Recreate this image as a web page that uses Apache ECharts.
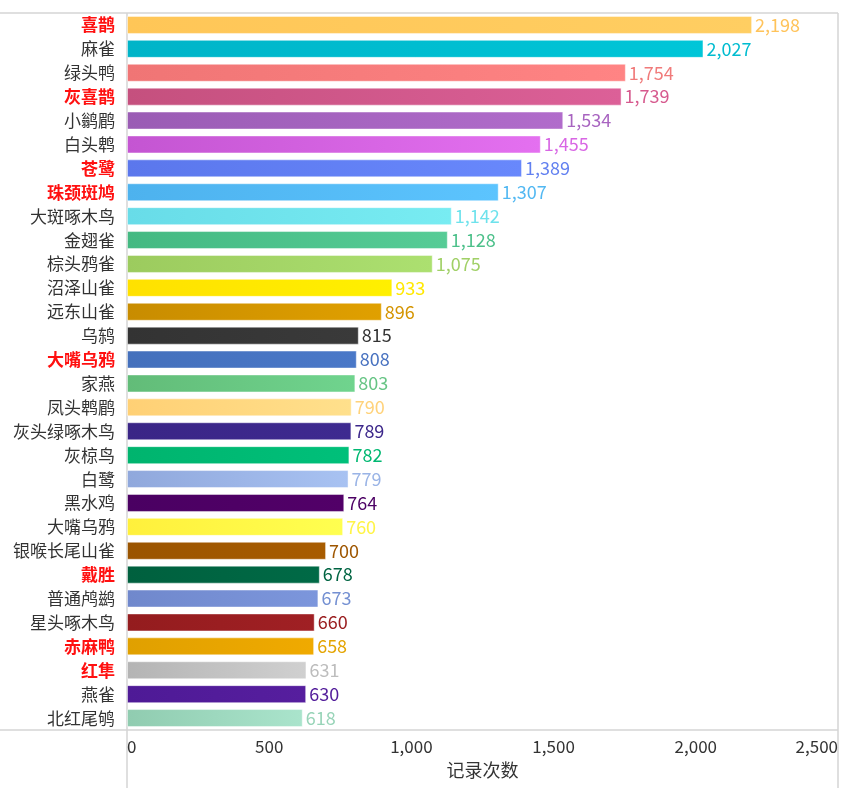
<!DOCTYPE html>
<html>
<head>
<meta charset="utf-8">
<script src="https://cdn.jsdelivr.net/npm/echarts@6/dist/echarts.min.js"></script>
<style>html,body{margin:0;padding:0;background:#fff;}#c{width:844px;height:788px;}</style>
</head>
<body>
<div id="c"></div>
<script>
const categories = ['喜鹊','麻雀','绿头鸭','灰喜鹊','小鹟鹛','白头鹎','苍鹭','珠颈斑鸠','大斑啄木鸟','金翅雀','棕头鸦雀','沼泽山雀','远东山雀','乌鸫','大嘴乌鸦','家燕','凤头鹎鹛','灰头绿啄木鸟','灰椋鸟','白鹭','黑水鸡','大嘴乌鸦','银喉长尾山雀','戴胜','普通鸬鹚','星头啄木鸟','赤麻鸭','红隼','燕雀','北红尾鸲'];
const values = [2198,2027,1754,1739,1534,1455,1389,1307,1142,1128,1075,933,896,815,808,803,790,789,782,779,764,760,700,678,673,660,658,631,630,618];
const highlighted = [true,false,false,true,false,false,true,true,false,false,false,false,false,false,true,false,false,false,false,false,false,false,false,true,false,false,true,true,false,false];
const colorStart = ['#FFC657','#00B4C8','#F07575','#C5507E','#9A5CB4','#C455D2','#5B77EC','#4DB2EE','#68DCE8','#44B982','#9CCB5E','#FFE100','#C88C00','#333333','#4470BC','#62BC78','#FFD075','#3A2586','#00B46E','#90A8DC','#4A0062','#FFF03C','#9A5400','#00603E','#7088CC','#941C1E','#E0A000','#B4B4B4','#4E1A96','#90CCB0'];
const colorEnd = ['#FFCE62','#00C6D8','#FF8484','#DC6098','#B16CCB','#E470F0','#6888FC','#5CC4FE','#78ECF2','#56CC96','#ACE070','#FFF000','#E0A000','#3A3A3A','#4A78C8','#70D48E','#FFE08C','#3E2A90','#00C07A','#A8C2F2','#520068','#FFFF50','#A85C00','#006A46','#7C96DC','#A02024','#F0AA00','#D0D0D0','#561E9E','#AAE4CC'];
const labelColors = ['#FFC35A','#00BCD0','#F07A7A','#D65A8E','#A864C0','#D866E4','#6280F0','#52B8F2','#6EE2EC','#4CC08A','#A0D066','#FFE800','#D49400','#333333','#4872C0','#66C484','#FFD27A','#3C278A','#00B872','#9AB4E6','#4C0064','#FFF446','#9E5600','#006442','#7490D2','#9A1E20','#E4A400','#BDBDBD','#521C9A','#98D4B8'];
const xTicks = [0,500,1000,1500,2000,2500];

const chart = echarts.init(document.getElementById('c'), null, {renderer:'canvas'});
const font = '"Noto Sans CJK SC","Noto Sans",sans-serif';
const data = values.map((v,i)=>({
  value: v,
  itemStyle: {
    color: new echarts.graphic.LinearGradient(0,0,1,0,[{offset:0,color:colorStart[i]},{offset:1,color:colorEnd[i]}]),
    borderColor: 'rgba(255,255,255,0.45)',
    borderWidth: 1
  },
  label: { color: labelColors[i] }
}));
const lineStyle = {stroke:'#d4d4d4', lineWidth:1.5};
chart.setOption({
  animation: false,
  textStyle: {fontFamily: font},
  grid: {left:127, right:6, top:13, bottom:58, containLabel:false},
  xAxis: {
    type:'value', min:xTicks[0], max:xTicks[xTicks.length-1], interval:500,
    name:'记录次数', nameLocation:'middle', nameGap:31,
    nameTextStyle:{fontSize:18, color:'#333', fontFamily:font},
    axisLine:{show:false}, axisTick:{show:false}, splitLine:{show:false},
    axisLabel:{fontSize:17, color:'#333', margin:8, alignMinLabel:'left', alignMaxLabel:'right',
      formatter: v => v.toLocaleString('en-US')}
  },
  yAxis: {
    type:'category', data:categories, inverse:true,
    axisLine:{show:false}, axisTick:{show:false}, splitLine:{show:false},
    axisLabel:{margin:12, fontSize:17, color:'#333',
      formatter:(v,i)=> highlighted[i] ? '{r|'+v+'}' : v,
      rich:{r:{color:'#FF1010', fontWeight:'bold', fontSize:17, fontFamily:font}}
    }
  },
  series: [{
    type:'bar', data:data, barWidth:18,
    label:{show:true, position:'right', distance:3, fontSize:18, fontFamily:font,
      formatter: p => p.value.toLocaleString('en-US')}
  }],
  graphic: [
    {type:'line', shape:{x1:0,y1:13,x2:838,y2:13}, style:lineStyle, silent:true},
    {type:'line', shape:{x1:0,y1:730,x2:838,y2:730}, style:lineStyle, silent:true},
    {type:'line', shape:{x1:127,y1:13,x2:127,y2:788}, style:lineStyle, silent:true},
    {type:'line', shape:{x1:838,y1:13,x2:838,y2:788}, style:lineStyle, silent:true}
  ]
});
</script>
</body>
</html>
